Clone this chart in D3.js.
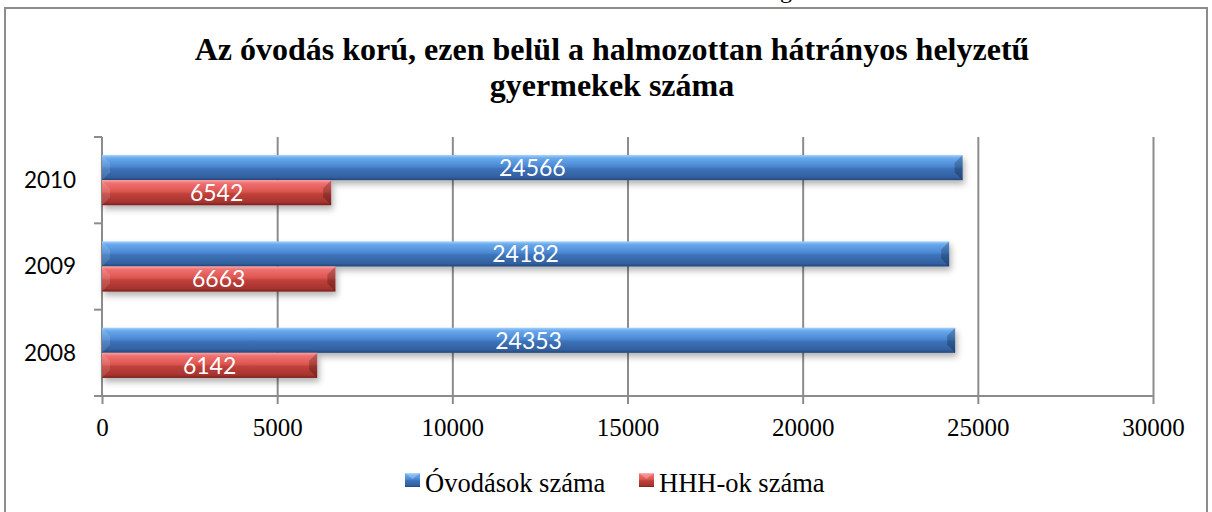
<!DOCTYPE html>
<html lang="hu">
<head>
    <meta charset="utf-8">
    <title>Óvodás korú gyermekek</title>
    <script src="https://d3js.org/d3.v7.min.js" charset="utf-8"></script>
    <style type="text/css">
        body { margin: 0; background: #fff; }
        .serif { font-family: 'Liberation Serif', 'Times New Roman', serif; }
        .sans { font-family: Lato, 'Open Sans', sans-serif; }
    </style>
</head>
<body>
    <script type="text/javascript">

        // data
        var years = ["2010", "2009", "2008"];
        var seriesNames = ["Óvodások száma", "HHH-ok száma"];
        var ovodasok = [24566, 24182, 24353];
        var hhh = [6542, 6663, 6142];
        var xTicks = [0, 5000, 10000, 15000, 20000, 25000, 30000];

        var W = 1212, H = 512;
        var plot = { left: 102, right: 1153, top: 137, bottom: 396 };

        var svg = d3.select("body").append("svg")
            .attr("width", W)
            .attr("height", H);

        var defs = svg.append("defs");

        // bar gradients (blue / red, 3D office look)
        var palettes = {
            blue: [["0%", "#9ed0ff"], ["12%", "#6aa8ec"], ["45%", "#4a88d2"], ["55%", "#3c72b8"], ["88%", "#32609f"], ["100%", "#22467a"]],
            red: [["0%", "#ffa0a0"], ["12%", "#f07070"], ["45%", "#dc5650"], ["55%", "#c0403a"], ["88%", "#a6342f"], ["100%", "#7a201c"]]
        };
        Object.keys(palettes).forEach(function (k) {
            var g = defs.append("linearGradient")
                .attr("id", "grad-" + k)
                .attr("x1", 0).attr("y1", 0).attr("x2", 0).attr("y2", 1);
            palettes[k].forEach(function (s) {
                g.append("stop").attr("offset", s[0]).attr("stop-color", s[1]);
            });
        });

        var shadow = defs.append("filter")
            .attr("id", "shadow")
            .attr("x", "-5%").attr("y", "-30%")
            .attr("width", "110%").attr("height", "180%");
        shadow.append("feDropShadow")
            .attr("dx", 2).attr("dy", 4)
            .attr("stdDeviation", 3)
            .attr("flood-color", "#000")
            .attr("flood-opacity", 0.3);

        // outer frame
        svg.append("rect")
            .attr("x", 5).attr("y", 8)
            .attr("width", 1202).attr("height", 520)
            .attr("fill", "none")
            .attr("stroke", "#8c8c8c")
            .attr("stroke-width", 2);

        // cut-off letter above the frame (as in the source page)
        svg.append("text")
            .attr("class", "serif")
            .attr("x", 780).attr("y", -2)
            .attr("font-size", 24)
            .text("g");

        // title
        var title = svg.append("text")
            .attr("class", "serif")
            .attr("text-anchor", "middle")
            .attr("font-weight", "bold")
            .attr("font-size", 32)
            .attr("fill", "#000");
        title.append("tspan").attr("x", 612).attr("y", 60)
            .text("Az óvodás korú, ezen belül a halmozottan hátrányos helyzetű");
        title.append("tspan").attr("x", 612).attr("y", 96)
            .text("gyermekek száma");

        // scales
        var x = d3.scaleLinear()
            .domain([0, 30000])
            .range([plot.left, plot.right]);

        var y = d3.scaleBand()
            .domain(years)
            .range([plot.top, plot.bottom])
            .padding(0);

        var ySeries = d3.scaleBand()
            .domain(seriesNames)
            .range([0, y.bandwidth()])
            .paddingInner(0)
            .paddingOuter(0.72);

        // gridlines
        svg.append("g")
            .attr("transform", "translate(0," + plot.top + ")")
            .call(d3.axisTop(x).tickValues(xTicks.slice(1))
                .tickSize(-(plot.bottom - plot.top)).tickFormat(""))
            .call(function (g) {
                g.select(".domain").remove();
                g.selectAll("line").attr("stroke", "#8c8c8c").attr("stroke-width", 2);
            });

        // x axis
        svg.append("g")
            .attr("class", "serif")
            .attr("transform", "translate(0," + plot.bottom + ")")
            .call(d3.axisBottom(x).tickValues(xTicks).tickSize(8).tickSizeOuter(0)
                .tickPadding(14).tickFormat(d3.format("d")))
            .call(function (g) {
                g.select(".domain").attr("stroke", "#8c8c8c").attr("stroke-width", 2)
                    .attr("d", "M" + (plot.left - 8) + ",0H" + plot.right);
                g.selectAll("line").attr("stroke", "#8c8c8c").attr("stroke-width", 2);
                g.selectAll("text").attr("font-size", 25).attr("fill", "#000")
                    .attr("font-family", "'Liberation Serif', 'Times New Roman', serif");
            });

        // y axis: line + boundary ticks
        var yAxis = svg.append("g");
        yAxis.append("line")
            .attr("x1", plot.left).attr("x2", plot.left)
            .attr("y1", plot.top).attr("y2", plot.bottom)
            .attr("stroke", "#8c8c8c").attr("stroke-width", 2);
        var bounds = years.map(function (d) { return y(d); }).concat([plot.bottom]);
        yAxis.selectAll(".btick")
            .data(bounds)
            .enter()
            .append("line")
            .attr("x1", plot.left - 8).attr("x2", plot.left)
            .attr("y1", function (d) { return d; })
            .attr("y2", function (d) { return d; })
            .attr("stroke", "#8c8c8c").attr("stroke-width", 2);
        yAxis.selectAll(".ylab")
            .data(years)
            .enter()
            .append("text")
            .attr("class", "sans")
            .attr("x", 50)
            .attr("y", function (d) { return y(d) + y.bandwidth() / 2; })
            .attr("dy", "0.35em")
            .attr("text-anchor", "middle")
            .attr("font-size", 22.5)
            .attr("fill", "#000")
            .text(function (d) { return d; });

        // bars
        var rows = [];
        years.forEach(function (yr, i) {
            rows.push({ year: yr, series: seriesNames[0], value: ovodasok[i], color: "blue" });
            rows.push({ year: yr, series: seriesNames[1], value: hhh[i], color: "red" });
        });

        var bars = svg.append("g").selectAll(".bar")
            .data(rows)
            .enter()
            .append("g")
            .attr("class", "bar")
            .attr("transform", function (d) {
                return "translate(0," + (y(d.year) + ySeries(d.series)) + ")";
            });

        var bh = ySeries.bandwidth();

        bars.append("rect")
            .attr("x", x(0))
            .attr("y", 0)
            .attr("width", function (d) { return x(d.value) - x(0); })
            .attr("height", bh)
            .attr("fill", function (d) { return "url(#grad-" + d.color + ")"; })
            .attr("filter", "url(#shadow)");

        // bevelled ends
        var bev = 8;
        bars.append("polygon")
            .attr("points", function (d) {
                var x0 = x(0);
                return [[x0, 0], [x0 + bev, bev], [x0 + bev, bh - bev], [x0, bh]].join(" ");
            })
            .attr("fill", "#fff")
            .attr("opacity", 0.12);
        bars.append("polygon")
            .attr("points", function (d) {
                var x1 = x(d.value);
                return [[x1, 0], [x1 - bev, bev], [x1 - bev, bh - bev], [x1, bh]].join(" ");
            })
            .attr("fill", "#000")
            .attr("opacity", 0.22);

        bars.append("text")
            .attr("class", "sans")
            .attr("x", function (d) { return (x(0) + x(d.value)) / 2; })
            .attr("y", bh / 2)
            .attr("dy", "0.36em")
            .attr("text-anchor", "middle")
            .attr("font-size", 23)
            .attr("fill", "#fff")
            .text(function (d) { return d.value; });

        // legend
        var legend = svg.append("g");
        var legendItems = [
            { name: seriesNames[0], color: "blue", x: 405 },
            { name: seriesNames[1], color: "red", x: 639 }
        ];
        var li = legend.selectAll(".li")
            .data(legendItems)
            .enter()
            .append("g")
            .attr("transform", function (d) { return "translate(" + d.x + ",473)"; });
        li.append("rect")
            .attr("width", 15).attr("height", 14)
            .attr("fill", function (d) { return "url(#grad-" + d.color + ")"; });
        li.append("polygon")
            .attr("points", "0,0 15,0 7.5,6")
            .attr("fill", "#fff").attr("opacity", 0.25);
        li.append("text")
            .attr("class", "serif")
            .attr("x", 20).attr("y", 19)
            .attr("font-size", 26.5)
            .attr("fill", "#000")
            .text(function (d) { return d.name; });

    </script>
</body>
</html>
